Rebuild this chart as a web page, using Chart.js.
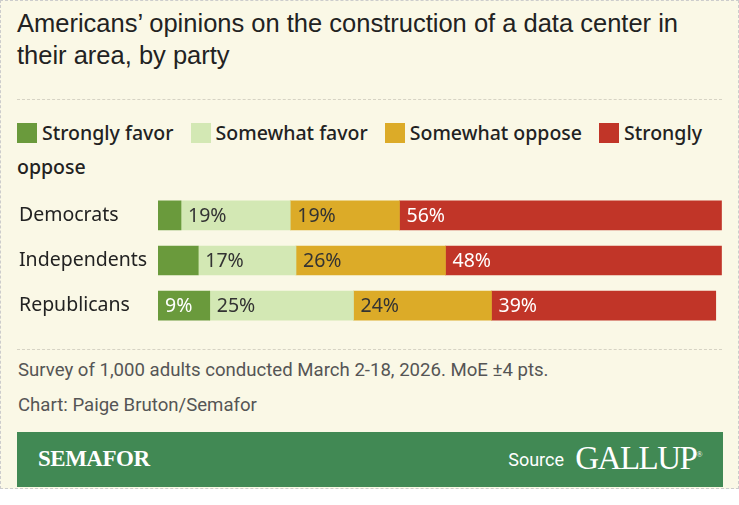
<!DOCTYPE html>
<html><head><meta charset="utf-8">
<script src="https://cdn.jsdelivr.net/npm/chart.js@4"></script>
<style>
body{margin:0;width:739px;height:505px;background:#fff;font-family:"Noto Sans",sans-serif;overflow:hidden}
#card{position:absolute;left:0;top:0;width:737px;height:487px;background:#faf8e6;border:1px dashed #ccc}
#title{position:absolute;left:16px;top:6px;width:715px;font-size:25.5px;line-height:32px;color:#222;font-family:"Liberation Sans",Arial,sans-serif}
.hr{position:absolute;left:16px;width:705px;border-top:1.5px dashed #d6d3c4}
#legend{position:absolute;left:16px;top:115px;width:715px;font-size:19.5px;font-weight:500;line-height:34px;color:#222}
#legend span.sw{display:inline-block;width:20px;height:20px;vertical-align:-3px;margin-right:5px}
#legend span.it{margin-right:12px}
.foot{position:absolute;left:17px;font-family:"Roboto",sans-serif;font-size:18.6px;color:#555}
#band{position:absolute;left:16px;top:431px;width:706px;height:55px;background:#418954}
#sem{position:absolute;left:21px;top:14px;color:#fff;font-family:"Liberation Serif",serif;font-weight:bold;font-size:23px;letter-spacing:-0.5px}
#src{position:absolute;right:159px;top:17px;color:#fff;font-family:"Roboto",sans-serif;font-size:18px}
#gal{position:absolute;right:22px;top:8px;color:#fff;font-family:"Liberation Serif",serif;font-size:33px;letter-spacing:-1.5px}
#wrap{position:absolute;left:3px;top:180px;width:729px;height:159px}
</style></head><body>
<div id="card">
<div id="title">Americans’ opinions on the construction of a data center in their area, by party</div>
<div class="hr" style="top:98px"></div>
<div id="legend"></div>
<div id="wrap"><canvas id="c"></canvas></div>
<div class="hr" style="top:348px"></div>
<div class="foot" style="top:358px">Survey of 1,000 adults conducted March 2-18, 2026. MoE ±4 pts.</div>
<div class="foot" style="top:393px">Chart: Paige Bruton/Semafor</div>
<div id="band"><div id="sem">SEMAFOR</div><div id="src">Source</div><div id="gal">GALLUP<sup style="font-size:8px">®</sup></div></div>
</div>
<script>
const categories=["Democrats","Independents","Republicans"];
const seriesNames=["Strongly favor","Somewhat favor","Somewhat oppose","Strongly oppose"];
const stronglyFavor=[4,7,9];
const somewhatFavor=[19,17,25];
const somewhatOppose=[19,26,24];
const stronglyOppose=[56,48,39];
const colors=["#6a9a3c","#d3e8b4","#dcab28","#c13528"];
const labelColors=["#fff","#333","#333","#fff"];
const values=[stronglyFavor,somewhatFavor,somewhatOppose,stronglyOppose];
document.getElementById('legend').innerHTML=seriesNames.map((n,i)=>`<span class="it"><span class="sw" style="background:${colors[i]}"></span>${n}</span>`).join(' ');
const lbl={id:'lbl',afterDatasetsDraw(ch){const ctx=ch.ctx;ctx.save();ctx.font='19.5px "Noto Sans"';ctx.textBaseline='middle';
ch.data.datasets.forEach((ds,i)=>{ch.getDatasetMeta(i).data.forEach((b,j)=>{const v=ds.data[j];if(v<8)return;ctx.fillStyle=labelColors[i];ctx.fillText(v+'%',b.base+7,b.y+1);});});ctx.restore();}};
new Chart(document.getElementById('c'),{type:'bar',
data:{labels:categories,datasets:values.map((d,i)=>({label:seriesNames[i],data:d,backgroundColor:colors[i],barThickness:29,borderWidth:0}))},
options:{indexAxis:'y',responsive:true,maintainAspectRatio:false,animation:false,
layout:{padding:{left:15}},
plugins:{legend:{display:false},tooltip:{enabled:false}},
scales:{x:{stacked:true,min:0,max:100,display:false},
y:{stacked:true,grid:{display:false},border:{display:false},afterFit(s){s.width=139;},
ticks:{crossAlign:'far',padding:0,color:'#222',font:{family:'Noto Sans',size:19.5}}}}},
plugins:[lbl]});
</script>
</body></html>
